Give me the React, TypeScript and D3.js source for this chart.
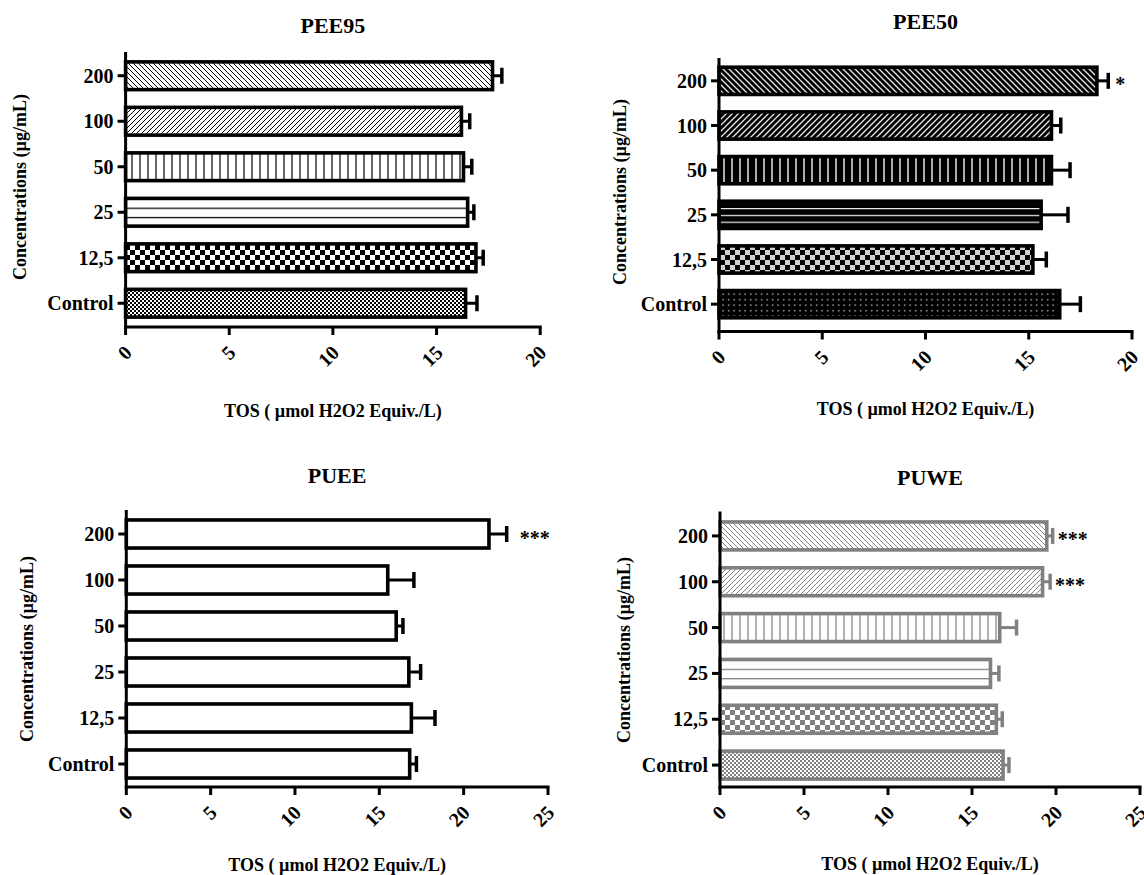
import * as d3 from "d3";

// top to bottom, as drawn
const concentrations = ["200", "100", "50", "25", "12,5", "Control"];

const pee95Means = [17.7, 16.2, 16.3, 16.5, 16.9, 16.4];
const pee95Errors = [0.45, 0.4, 0.4, 0.3, 0.35, 0.55];
const pee95Signif = ["", "", "", "", "", ""];

const pee50Means = [18.3, 16.1, 16.1, 15.6, 15.2, 16.5];
const pee50Errors = [0.55, 0.45, 0.9, 1.3, 0.65, 1.0];
const pee50Signif = ["*", "", "", "", "", ""];

const pueeMeans = [21.5, 15.5, 16.0, 16.75, 16.9, 16.8];
const pueeErrors = [1.05, 1.55, 0.4, 0.7, 1.4, 0.4];
const pueeSignif = ["***", "", "", "", "", ""];

const puweMeans = [19.45, 19.2, 16.65, 16.1, 16.45, 16.85];
const puweErrors = [0.35, 0.45, 1.0, 0.5, 0.35, 0.35];
const puweSignif = ["***", "***", "", "", "", ""];

const ticks20 = [0, 5, 10, 15, 20];
const ticks25 = [0, 5, 10, 15, 20, 25];

const xLabel = "TOS ( µmol H2O2 Equiv./L)";
const yLabel = "Concentrations (µg/mL)";

const FONT = "'Liberation Serif', 'Times New Roman', Times, serif";
const GRAY = "#808080";

type Theme = "outline" | "inverse" | "plain" | "gray";

const patternKinds = ["diagDown", "diagUp", "vert", "horiz", "checker", "fine"];

const panels = [
  {
    id: "pee95", title: "PEE95", means: pee95Means, errors: pee95Errors, signif: pee95Signif,
    ticks: ticks20, theme: "outline" as Theme,
    x0: 125.6, x1: 540.2, axisTop: 52, bandTop: 53, bandBottom: 326, axisY: 327,
    titleY: 33, xLabelY: 417, yLabelX: 26, yLabelY: 187, starGap: 8,
  },
  {
    id: "pee50", title: "PEE50", means: pee50Means, errors: pee50Errors, signif: pee50Signif,
    ticks: ticks20, theme: "inverse" as Theme,
    x0: 719, x1: 1132, axisTop: 58, bandTop: 58.5, bandBottom: 326.5, axisY: 331.5,
    titleY: 29, xLabelY: 415, yLabelX: 626, yLabelY: 192, starGap: 7,
  },
  {
    id: "puee", title: "PUEE", means: pueeMeans, errors: pueeErrors, signif: pueeSignif,
    ticks: ticks25, theme: "plain" as Theme,
    x0: 126.3, x1: 548, axisTop: 510, bandTop: 511, bandBottom: 787, axisY: 787,
    titleY: 483, xLabelY: 871, yLabelX: 33, yLabelY: 649, starGap: 13,
  },
  {
    id: "puwe", title: "PUWE", means: puweMeans, errors: puweErrors, signif: puweSignif,
    ticks: ticks25, theme: "gray" as Theme,
    x0: 720, x1: 1140, axisTop: 511.5, bandTop: 513, bandBottom: 788, axisY: 787,
    titleY: 485, xLabelY: 870, yLabelX: 630, yLabelY: 650, starGap: 5,
  },
];

function Patterns({ id, theme }: { id: string; theme: Theme }) {
  const inv = theme === "inverse";
  const fg = theme === "gray" ? GRAY : inv ? "#e8e8e8" : "#000";
  const bg = inv ? "#000" : "#fff";
  const d = inv ? 6 : 5;
  const lw = inv ? 1.3 : 1;
  const cell = 5;
  const fine = 2;
  const hStep = inv ? 0.25 : 1 / 3;
  return (
    <>
      <pattern id={`${id}-diagDown`} patternUnits="userSpaceOnUse" width={d} height={d}>
        <rect width={d} height={d} fill={bg} />
        <path d={`M0,0L${d},${d}M-1,${d - 1}L1,${d + 1}M${d - 1},-1L${d + 1},1`} stroke={fg} strokeWidth={lw} />
      </pattern>
      <pattern id={`${id}-diagUp`} patternUnits="userSpaceOnUse" width={d} height={d}>
        <rect width={d} height={d} fill={bg} />
        <path d={`M0,${d}L${d},0M-1,1L1,-1M${d - 1},${d + 1}L${d + 1},${d - 1}`} stroke={fg} strokeWidth={lw} />
      </pattern>
      <pattern id={`${id}-vert`} patternUnits="userSpaceOnUse" width={8} height={8}>
        <rect width={8} height={8} fill={bg} />
        <line x1={4} x2={4} y1={0} y2={8} stroke={fg} strokeWidth={inv ? 1.5 : 1.2} />
      </pattern>
      <pattern id={`${id}-horiz`} patternUnits="objectBoundingBox" patternContentUnits="objectBoundingBox" width={1} height={hStep}>
        <rect width={1} height={hStep} fill={bg} />
        <rect width={1} height={0.045} fill={fg} />
      </pattern>
      <pattern id={`${id}-checker`} patternUnits="userSpaceOnUse" width={cell * 2} height={cell * 2}>
        <rect width={cell * 2} height={cell * 2} fill={inv ? "#d0d0d0" : bg} />
        <rect width={cell} height={cell} fill={inv ? "#000" : fg} />
        <rect x={cell} y={cell} width={cell} height={cell} fill={inv ? "#000" : fg} />
      </pattern>
      {inv ? (
        <pattern id={`${id}-fine`} patternUnits="userSpaceOnUse" width={5.5} height={5.5}>
          <rect width={5.5} height={5.5} fill="#000" />
          <rect x={2} y={2} width={1.3} height={1.3} fill="#e0e0e0" />
        </pattern>
      ) : (
        <pattern id={`${id}-fine`} patternUnits="userSpaceOnUse" width={fine * 2} height={fine * 2}>
          <rect width={fine * 2} height={fine * 2} fill={bg} />
          <rect width={fine} height={fine} fill={fg} />
          <rect x={fine} y={fine} width={fine} height={fine} fill={fg} />
        </pattern>
      )}
    </>
  );
}

function Panel({ p }: { p: (typeof panels)[number] }) {
  const xMax = p.ticks[p.ticks.length - 1];
  const xs = d3.scaleLinear().domain([0, xMax]).range([p.x0, p.x1]);
  const ys = d3.scaleBand().domain(concentrations).range([p.bandTop, p.bandBottom]).paddingInner(0.39).paddingOuter(0.195);
  const barStroke = p.theme === "gray" ? GRAY : "#000";
  const cx = (p.x0 + p.x1) / 2;

  return (
    <g fontFamily={FONT} fontWeight="bold" fill="#000">
      <text x={cx} y={p.titleY} textAnchor="middle" fontSize={22}>{p.title}</text>

      {concentrations.map((c, i) => {
        const y = ys(c) as number;
        const h = ys.bandwidth();
        const yc = y + h / 2;
        const fill = p.theme === "plain" ? "#fff" : `url(#${p.id}-${patternKinds[i]})`;
        const xv = xs(p.means[i]);
        const xe = xs(p.means[i] + p.errors[i]);
        return (
          <g key={c}>
            <rect x={xs(0)} y={y} width={xv - xs(0)} height={h} fill={fill} stroke={barStroke} strokeWidth={3.6} />
            <line x1={xv} x2={xe} y1={yc} y2={yc} stroke={barStroke} strokeWidth={3} />
            <line x1={xe} x2={xe} y1={yc - 8} y2={yc + 8} stroke={barStroke} strokeWidth={3.5} />
            {p.signif[i] && (
              <text x={xe + p.starGap} y={yc + 10.5} fontSize={20}>{p.signif[i]}</text>
            )}
          </g>
        );
      })}

      {/* y axis */}
      <line x1={p.x0} x2={p.x0} y1={p.axisTop} y2={p.axisY + 1.5} stroke="#000" strokeWidth={3} />
      {concentrations.map((c) => {
        const yc = (ys(c) as number) + ys.bandwidth() / 2;
        return (
          <g key={c}>
            <line x1={p.x0 - 8} x2={p.x0} y1={yc} y2={yc} stroke="#000" strokeWidth={3} />
            <text x={p.x0 - 12} y={yc} dy="0.35em" textAnchor="end" fontSize={20}>{c}</text>
          </g>
        );
      })}

      {/* x axis */}
      <line x1={p.x0 - 1.5} x2={p.x1 + 1.5} y1={p.axisY} y2={p.axisY} stroke="#000" strokeWidth={3} />
      {p.ticks.map((t) => (
        <g key={t}>
          <line x1={xs(t)} x2={xs(t)} y1={p.axisY} y2={p.axisY + 8} stroke="#000" strokeWidth={3} />
          <text
            transform={`translate(${xs(t) + 2.5},${p.axisY + 22}) rotate(-45)`}
            dy="0.35em"
            textAnchor="end"
            fontSize={20}
          >
            {t}
          </text>
        </g>
      ))}

      <text x={cx} y={p.xLabelY} textAnchor="middle" fontSize={18}>{xLabel}</text>
      <text transform={`translate(${p.yLabelX},${p.yLabelY}) rotate(-90)`} textAnchor="middle" fontSize={18}>
        {yLabel}
      </text>
    </g>
  );
}

export default function App() {
  return (
    <svg
      width={1144}
      height={875}
      style={{ position: "absolute", left: 0, top: 0, background: "#fff", display: "block" }}
    >
      <defs>
        {panels.map((p) => (
          <Patterns key={p.id} id={p.id} theme={p.theme} />
        ))}
      </defs>
      <rect width={1144} height={875} fill="#fff" />
      {panels.map((p) => (
        <Panel key={p.id} p={p} />
      ))}
    </svg>
  );
}
